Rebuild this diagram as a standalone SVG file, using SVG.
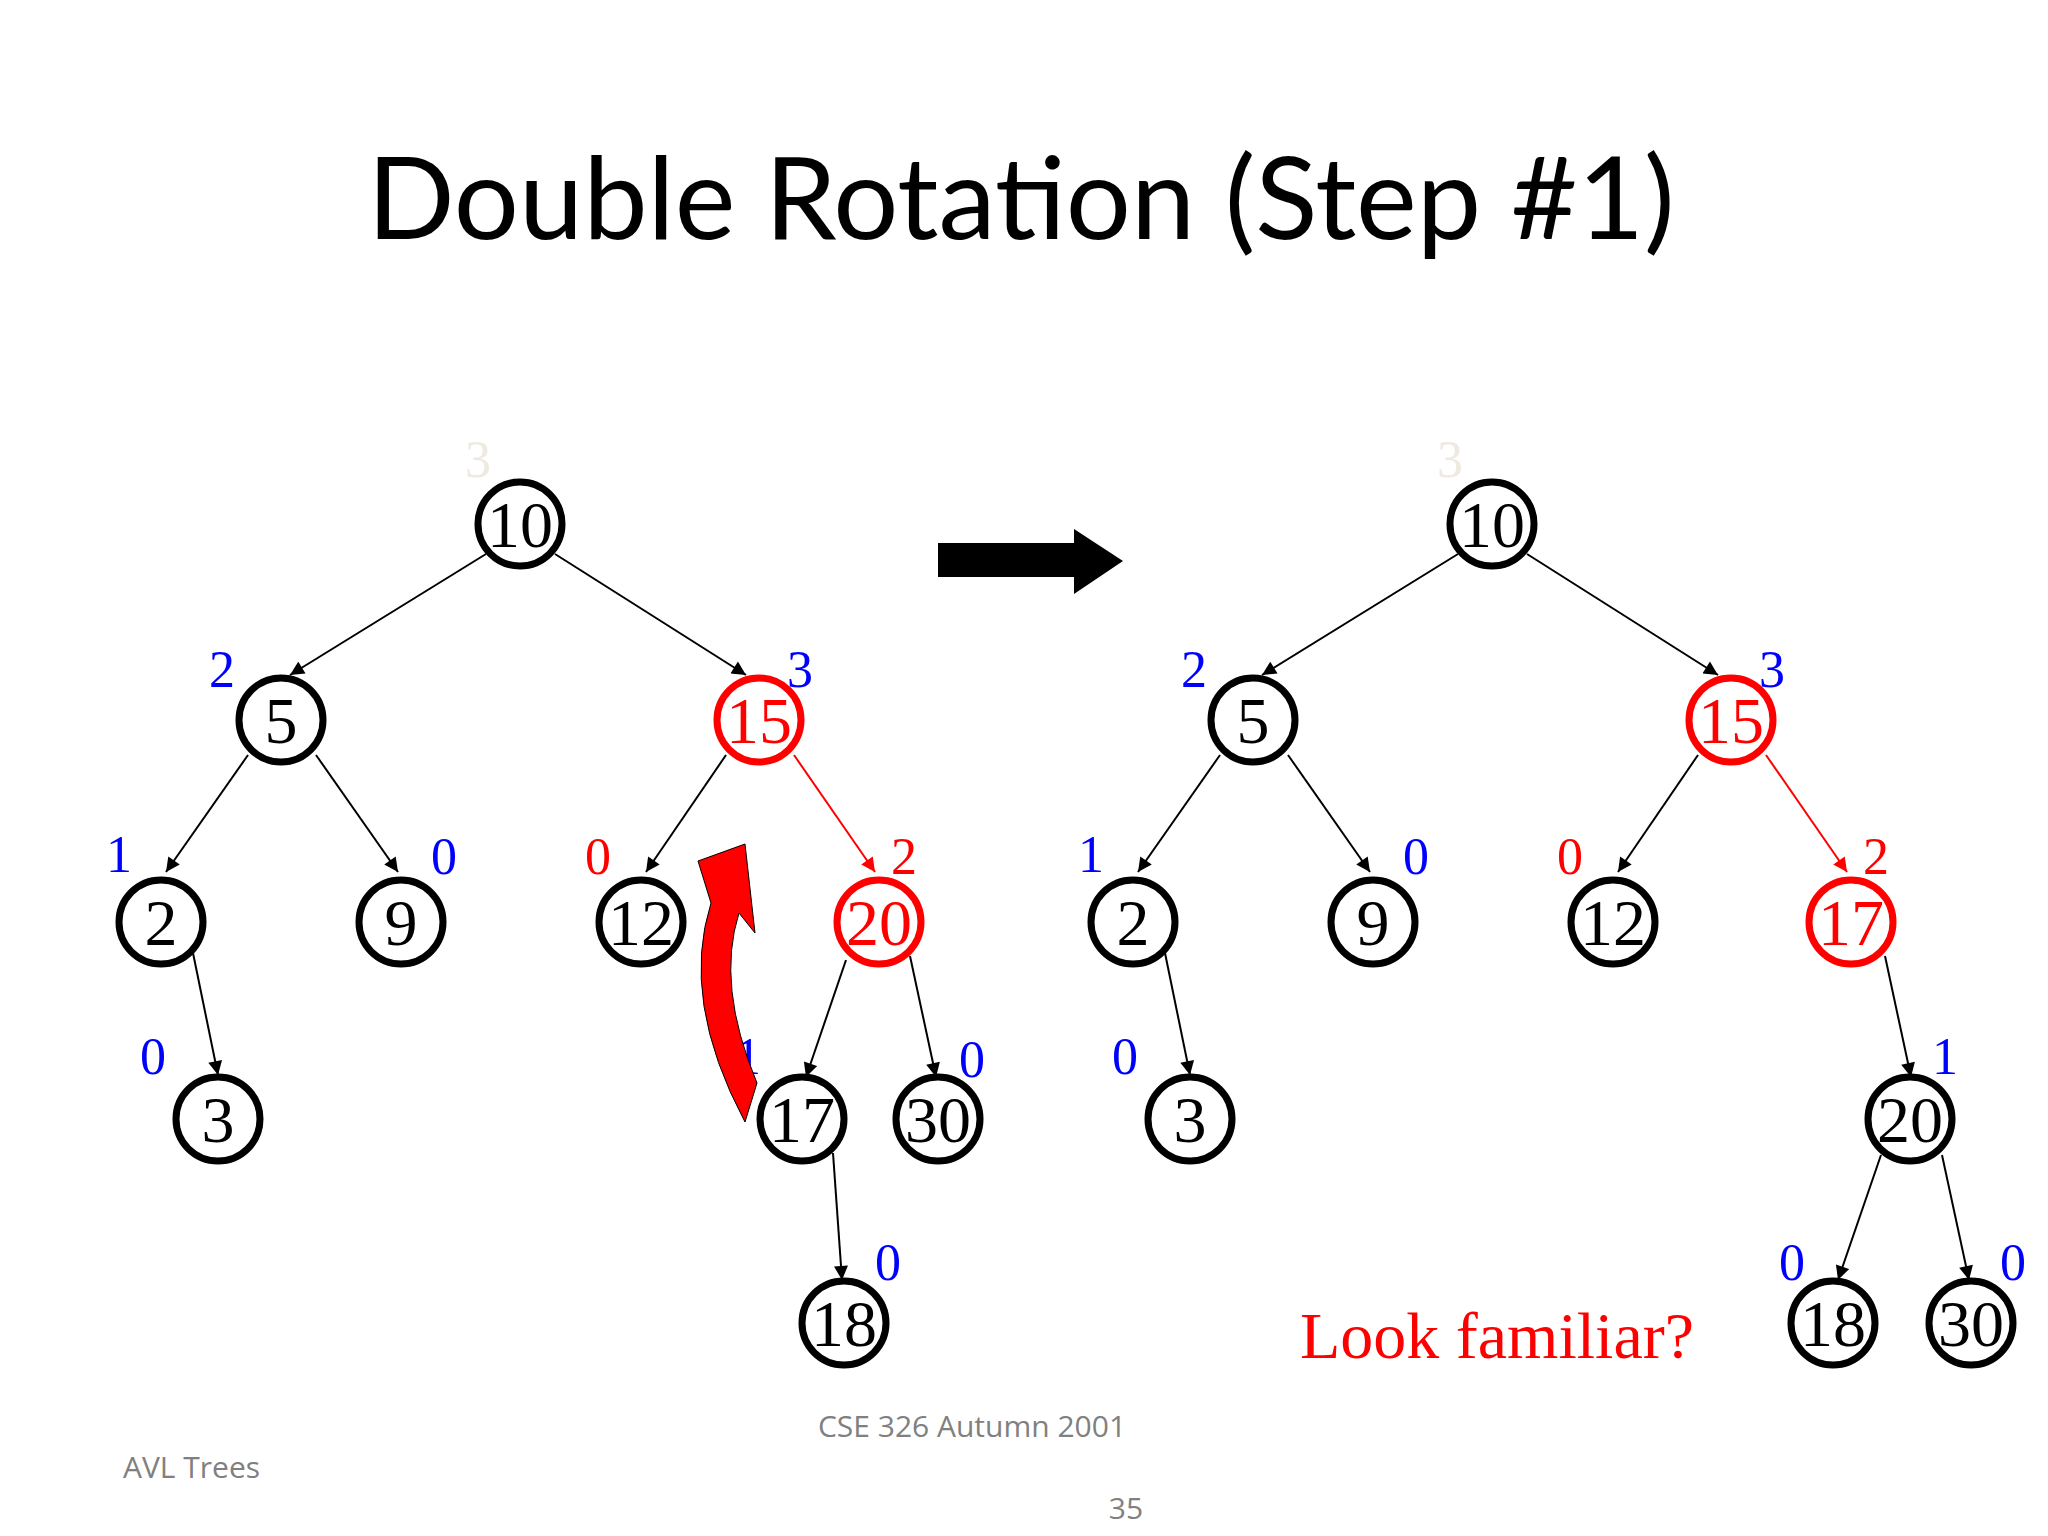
<svg xmlns="http://www.w3.org/2000/svg" width="2048" height="1536" viewBox="0 0 2048 1536">
<style>
.n circle{fill:#fff;stroke:#000;stroke-width:7}
.n text{font-family:"Liberation Serif",serif;font-size:66px;text-anchor:middle;fill:#000}
.r circle{stroke:#f00}
.r text{fill:#f00}
.lb{font-family:"Liberation Serif",serif;font-size:52px;fill:#00f;text-anchor:middle}
.red{fill:#f00}
.pale{fill:#eeeae0}
.e line{stroke:#000;stroke-width:2;marker-end:url(#a)}
.e line.re{stroke:#f00;marker-end:url(#ar)}
.ft{font-family:"Open Sans",sans-serif;font-size:30px;fill:#808080}
</style>
<defs>
<marker id="a" viewBox="0 0 10 10" refX="10" refY="5" markerWidth="16" markerHeight="14" markerUnits="userSpaceOnUse" orient="auto"><path d="M0,0L10,5L0,10Z" fill="#000"/></marker>
<marker id="ar" viewBox="0 0 10 10" refX="10" refY="5" markerWidth="16" markerHeight="14" markerUnits="userSpaceOnUse" orient="auto"><path d="M0,0L10,5L0,10Z" fill="#f00"/></marker>
</defs>
<rect width="2048" height="1536" fill="#fff"/>
<text x="1021" y="239" font-family="Lato,sans-serif" font-size="115" text-anchor="middle">Double Rotation (Step #1)</text>
<g class="e" id="connectors">
<line x1="486" y1="554" x2="290" y2="675"/><line x1="555" y1="554" x2="746" y2="675"/>
<line x1="248" y1="755" x2="166" y2="872"/><line x1="316" y1="755" x2="398" y2="872"/>
<line x1="726" y1="755" x2="646" y2="872"/><line class="re" x1="794" y1="755" x2="875" y2="872"/>
<line x1="193" y1="953" x2="218" y2="1075"/><line x1="846" y1="960" x2="806" y2="1077"/>
<line x1="910" y1="956" x2="936" y2="1077"/><line x1="833" y1="1153" x2="842" y2="1280"/>
<line x1="1458" y1="554" x2="1262" y2="675"/><line x1="1527" y1="554" x2="1718" y2="675"/>
<line x1="1220" y1="755" x2="1138" y2="872"/><line x1="1288" y1="755" x2="1370" y2="872"/>
<line x1="1698" y1="755" x2="1618" y2="872"/><line class="re" x1="1766" y1="755" x2="1847" y2="872"/>
<line x1="1165" y1="953" x2="1190" y2="1075"/><line x1="1885" y1="956" x2="1911" y2="1077"/>
<line x1="1881" y1="1155" x2="1838" y2="1280"/><line x1="1942" y1="1155" x2="1969" y2="1280"/>
</g>
<g id="L10" class="n"><circle cx="520" cy="524" r="42"/><text x="520" y="547">10</text></g>
<g id="L5" class="n"><circle cx="281" cy="720" r="42"/><text x="281" y="743">5</text></g>
<g id="L15" class="n r"><circle cx="759" cy="720" r="42"/><text x="759" y="743">15</text></g>
<g id="L2" class="n"><circle cx="161" cy="922" r="42"/><text x="161" y="945">2</text></g>
<g id="L9" class="n"><circle cx="401" cy="922" r="42"/><text x="401" y="945">9</text></g>
<g id="L12" class="n"><circle cx="641" cy="922" r="42"/><text x="641" y="945">12</text></g>
<g id="L20" class="n r"><circle cx="879" cy="922" r="42"/><text x="879" y="945">20</text></g>
<g id="L3" class="n"><circle cx="218" cy="1119" r="42"/><text x="218" y="1142">3</text></g>
<g id="L17" class="n"><circle cx="802" cy="1119" r="42"/><text x="802" y="1142">17</text></g>
<g id="L30" class="n"><circle cx="938" cy="1119" r="42"/><text x="938" y="1142">30</text></g>
<g id="L18" class="n"><circle cx="844" cy="1323" r="42"/><text x="844" y="1346">18</text></g>
<g id="R10" class="n"><circle cx="1492" cy="524" r="42"/><text x="1492" y="547">10</text></g>
<g id="R5" class="n"><circle cx="1253" cy="720" r="42"/><text x="1253" y="743">5</text></g>
<g id="R15" class="n r"><circle cx="1731" cy="720" r="42"/><text x="1731" y="743">15</text></g>
<g id="R2" class="n"><circle cx="1133" cy="922" r="42"/><text x="1133" y="945">2</text></g>
<g id="R9" class="n"><circle cx="1373" cy="922" r="42"/><text x="1373" y="945">9</text></g>
<g id="R12" class="n"><circle cx="1613" cy="922" r="42"/><text x="1613" y="945">12</text></g>
<g id="R17" class="n r"><circle cx="1851" cy="922" r="42"/><text x="1851" y="945">17</text></g>
<g id="R3" class="n"><circle cx="1190" cy="1119" r="42"/><text x="1190" y="1142">3</text></g>
<g id="R20" class="n"><circle cx="1910" cy="1119" r="42"/><text x="1910" y="1142">20</text></g>
<g id="R18" class="n"><circle cx="1833" cy="1323" r="42"/><text x="1833" y="1346">18</text></g>
<g id="R30" class="n"><circle cx="1971" cy="1323" r="42"/><text x="1971" y="1346">30</text></g>
<g id="labels">
<text class="lb pale" x="478" y="477">3</text>
<text class="lb" x="222" y="687">2</text><text class="lb" x="800" y="687">3</text>
<text class="lb" x="119" y="872">1</text><text class="lb" x="444" y="874">0</text>
<text class="lb red" x="598" y="874">0</text><text class="lb red" x="904" y="874">2</text>
<text class="lb" x="153" y="1074">0</text><text class="lb" x="748" y="1074">1</text><text class="lb" x="972" y="1077">0</text>
<text class="lb" x="888" y="1280">0</text>
<text class="lb pale" x="1450" y="477">3</text>
<text class="lb" x="1194" y="687">2</text><text class="lb" x="1772" y="687">3</text>
<text class="lb" x="1091" y="872">1</text><text class="lb" x="1416" y="874">0</text>
<text class="lb red" x="1570" y="874">0</text><text class="lb red" x="1876" y="874">2</text>
<text class="lb" x="1125" y="1074">0</text><text class="lb" x="1945" y="1074">1</text>
<text class="lb" x="1792" y="1280">0</text><text class="lb" x="2013" y="1280">0</text>
</g>
<path id="rot-arrow" d="M745,844 L755,933 L739,913 Q716,985 757,1083 L745,1122 Q680,1000 711,903 L698,861 Z" fill="#f00" stroke="#000" stroke-width="1"/>
<path id="big-arrow" d="M938,543 H1074 V529 L1123,561 L1074,594 V577 H938 Z" fill="#000"/>
<text x="1300" y="1358" font-family="Liberation Serif,serif" font-size="66" fill="#f00">Look familiar?</text>
<text class="ft" x="972" y="1437" text-anchor="middle">CSE 326 Autumn 2001</text>
<text class="ft" x="123" y="1478">AVL Trees</text>
<text class="ft" x="1126" y="1519" text-anchor="middle">35</text>
</svg>
